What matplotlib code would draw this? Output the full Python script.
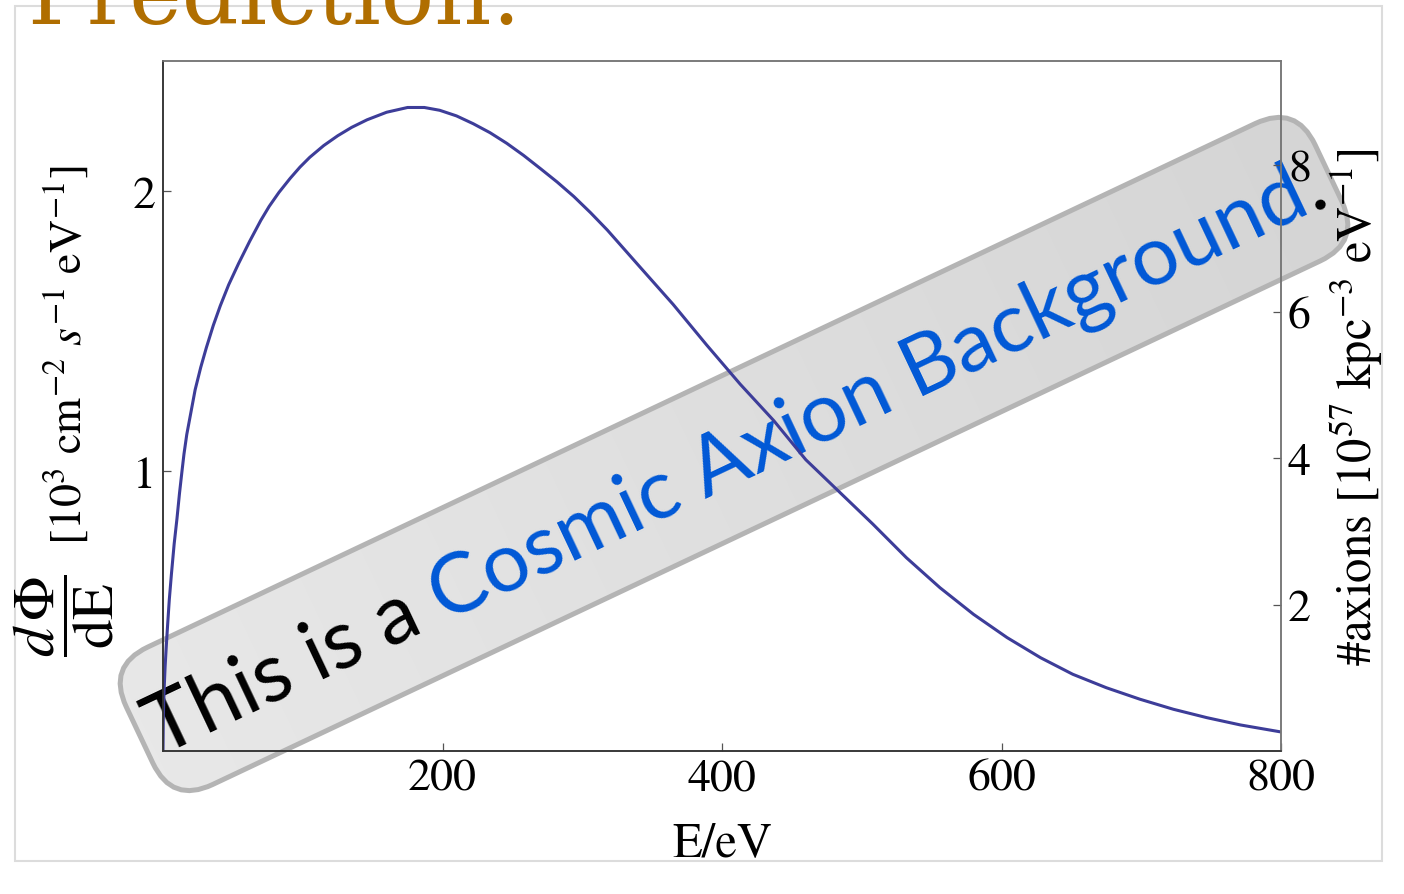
import numpy as np
import matplotlib.pyplot as plt
from matplotlib.patches import FancyBboxPatch, Rectangle
from matplotlib.transforms import Affine2D
from matplotlib.colors import LinearSegmentedColormap

plt.rcParams['font.family'] = 'STIXGeneral'
plt.rcParams['mathtext.fontset'] = 'stix'

# espectro dPhi/dE (10^3 cm^-2 s^-1 eV^-1) em funcao de E (eV)
energia = [0, 0.2, 0.5, 0.8, 1.5, 2.3, 3.3, 4.5, 6, 8,
           10, 11.8, 13.6, 15, 17, 20, 23, 27, 31, 36,
           41, 47, 54, 62, 70, 76, 83, 91, 98, 105,
           115, 125, 135, 146, 160, 175, 187, 198, 210, 222,
           234, 246, 258, 270, 282, 294, 306, 318, 341, 365,
           389, 413, 437, 460, 484, 508, 532, 556, 580, 604,
           628, 651, 675, 699, 723, 747, 771, 800]
fluxo = [0, 0.11, 0.17, 0.22, 0.30, 0.37, 0.45, 0.54, 0.63, 0.74,
         0.83, 0.92, 1.00, 1.06, 1.13, 1.21, 1.29, 1.37, 1.44, 1.52,
         1.59, 1.665, 1.74, 1.82, 1.895, 1.945, 1.995, 2.045, 2.085, 2.12,
         2.162, 2.197, 2.227, 2.254, 2.281, 2.298, 2.298, 2.288, 2.268, 2.24,
         2.208, 2.17, 2.127, 2.08, 2.032, 1.98, 1.922, 1.86, 1.73, 1.595,
         1.45, 1.31, 1.18, 1.04, 0.925, 0.81, 0.69, 0.583, 0.488, 0.405,
         0.333, 0.274, 0.226, 0.185, 0.149, 0.119, 0.093, 0.068]

ticks_x = [200, 400, 600, 800]
ticks_esq = [1, 2]
ticks_dir = [2, 4, 6, 8]

titulo = 'Prediction:'
pedacos = ['This is a', 'Cosmic Axion Background', '.']
cores = ['black', '#0058d6', 'black']

fig = plt.figure(figsize=(14.04, 8.95), dpi=100)

# fundo em pixels (y para baixo): moldura, titulo e faixa
bg = fig.add_axes([0, 0, 1, 1], zorder=-1)
bg.axis('off')

bg.add_patch(Rectangle((15, 7), 1367, 855, fill=False, edgecolor='#dcdcdc', lw=1.5))
bg.text(27, 24, titulo, color='#b06e00', fontsize=64, family='DejaVu Serif',
        ha='left', va='baseline', clip_on=False)

ang = 25.3
cx, cy = 734, 455
L, H = 1315, 152
rot = Affine2D().rotate_deg(-ang).translate(cx, cy) + bg.transData
caixa = FancyBboxPatch((-L / 2, -H / 2), L, H, boxstyle='round,pad=0,rounding_size=45',
                       transform=rot, facecolor='none', edgecolor='#b4b4b4', lw=3.6, zorder=2)
bg.add_patch(caixa)
cmap = LinearSegmentedColormap.from_list('faixa', ['#e8e8e8', '#d5d5d5'])
grad = bg.imshow(np.linspace(0, 1, 256)[None, :], cmap=cmap, aspect='auto',
                 extent=(-L / 2, L / 2, -H / 2, H / 2), interpolation='bilinear', zorder=1)
grad.set_transform(rot)
grad.set_clip_path(caixa)

fonte = dict(family='Lato', fontsize=60)
renderer = fig.canvas.get_renderer()


def largura(s):
    t = fig.text(0, 0, s, **fonte)
    w = t.get_window_extent(renderer).width
    t.remove()
    return w


espaco = largura('a a') - largura('aa')
larguras = [largura(p) for p in pedacos]
offsets = [0, larguras[0] + espaco, larguras[0] + espaco + larguras[1]]
total = offsets[-1] + larguras[-1]
c, s = np.cos(np.radians(ang)), np.sin(np.radians(ang))
x0 = cx - total / 2 * c + 27 * s
y0 = cy + total / 2 * s + 27 * c
for p, cor, off in zip(pedacos, cores, offsets):
    bg.text(x0 + off * c, y0 - off * s, p, color=cor, rotation=ang, rotation_mode='anchor',
            ha='left', va='baseline', zorder=3, **fonte)

# fracao dPhi/dE do rotulo da esquerda
bg.text(64, 616, r'$\dfrac{d\,\Phi}{\mathrm{dE}}$', fontsize=42, rotation=90,
        ha='center', va='center', rotation_mode='anchor')

bg.set_xlim(0, 1404)
bg.set_ylim(895, 0)

# grafico principal
ax = fig.add_axes([163 / 1404, 1 - 752 / 895, 1118 / 1404, 690 / 895])
ax.set_facecolor('none')
ax.plot(energia, fluxo, color='#3d3d99', lw=2.2)
ax.set_xlim(0, 800)
ax.set_ylim(0, 2.464)
ax.set_xticks(ticks_x)
ax.set_yticks(ticks_esq)
ax.tick_params(direction='in', length=6, width=0.9, color='#555555', labelsize=33, pad=5)
ax.set_xlabel('E/eV', fontsize=35, labelpad=16)
ax.set_ylabel(r'[$10^3$ cm$^{-2}$ $s^{-1}$ eV$^{-1}$]', fontsize=33)
ax.yaxis.set_label_coords(-0.064, 0.575)

ax2 = ax.twinx()
ax2.set_ylim(0, 9.42)
ax2.set_yticks(ticks_dir)
ax2.tick_params(direction='in', length=6, width=0.9, color='#555555', labelsize=33, pad=5)
ax2.set_ylabel(r'#axions [$10^{57}$ kpc$^{-3}$ eV$^{-1}$]', fontsize=35)
ax2.yaxis.set_label_coords(1.042, 0.5)

for a in (ax, ax2):
    for lado in ('left', 'bottom'):
        a.spines[lado].set_color('#333333')
    for lado in ('top', 'right'):
        a.spines[lado].set_color('#777777')
    for sp in a.spines.values():
        sp.set_linewidth(1.1)

fig.savefig('out.png', dpi=100)
